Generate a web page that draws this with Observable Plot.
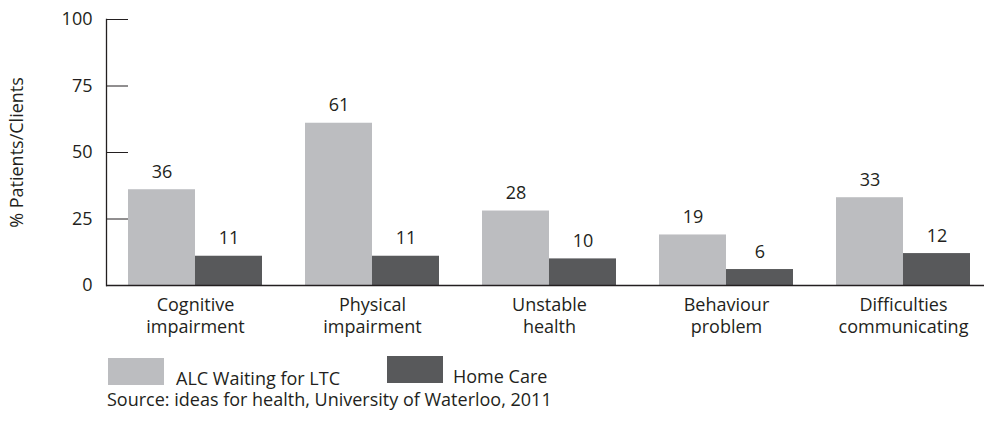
<!DOCTYPE html>
<html>
<head>
<meta charset="utf-8">
<script src="https://cdn.jsdelivr.net/npm/d3@7"></script>
<script src="https://cdn.jsdelivr.net/npm/@observablehq/plot@0.6"></script>
<style>
  html, body { margin: 0; padding: 0; background: #fff; }
  body { width: 984px; height: 423px; overflow: hidden; font-family: "Open Sans", sans-serif; color: #231f20; }
  #legend { position: relative; height: 78px; font-size: 18px; }
  #legend .sw { position: absolute; width: 56px; height: 27px; }
  #legend .lab { position: absolute; line-height: 18px; white-space: nowrap; }
</style>
</head>
<body>
<div id="chart"></div>
<div id="legend"></div>
<script>
// ---- data ----
const categories = ["Cognitive\nimpairment", "Physical\nimpairment", "Unstable\nhealth", "Behaviour\nproblem", "Difficulties\ncommunicating"];
const seriesNames = ["ALC Waiting for LTC", "Home Care"];
const alcValues = [36, 61, 28, 19, 33];
const homeCareValues = [11, 11, 10, 6, 12];
const yTicks = [0, 25, 50, 75, 100];
const yLabel = "% Patients/Clients";
const sourceText = "Source: ideas for health, University of Waterloo, 2011";
const colors = ["#bcbdc0", "#58595b"];

// ---- layout ----
const W = 984, H = 345;
const marginLeft = 106, marginRight = 0, marginTop = 19, marginBottom = H - 285;
const xOpts = {type: "band", domain: categories, range: [marginLeft, W - marginRight], paddingInner: 0.243, paddingOuter: 0.1017, align: 0.611};
const xs = Plot.scale({x: xOpts});
const half = xs.bandwidth / 2;

const rows = [];
categories.forEach((c, i) => {
  rows.push({cat: c, series: seriesNames[0], value: alcValues[i], side: 0});
  rows.push({cat: c, series: seriesNames[1], value: homeCareValues[i], side: 1});
});
const left = rows.filter(d => d.side === 0);
const right = rows.filter(d => d.side === 1);

const ink = "#231f20";
const fs = "18px";
const chart = Plot.plot({
  width: W, height: H,
  marginLeft, marginRight, marginTop, marginBottom,
  style: {fontFamily: "'Open Sans', sans-serif", fontSize: fs, color: ink, background: "#fff"},
  x: {...xOpts, label: null},
  y: {domain: [0, 100], ticks: yTicks, label: null},
  color: {domain: seriesNames, range: colors},
  marks: [
    Plot.barY(left, {x: "cat", y: "value", fill: "series", insetRight: half}),
    Plot.barY(right, {x: "cat", y: "value", fill: "series", insetLeft: half}),
    Plot.text(left, {x: "cat", y: "value", text: d => String(d.value), dx: -half / 2, dy: -12, lineAnchor: "bottom", fill: ink, fontSize: fs}),
    Plot.text(right, {x: "cat", y: "value", text: d => String(d.value), dx: half / 2, dy: -12, lineAnchor: "bottom", fill: ink, fontSize: fs}),
    Plot.axisY(yTicks, {tickSize: 0, tickPadding: 14, label: yLabel, labelAnchor: "center", labelOffset: 96, labelArrow: "none", fontSize: fs, color: ink}),
    Plot.axisY(yTicks, {tickSize: -22, text: null, label: null, stroke: ink, strokeOpacity: 1}),
    Plot.axisX({tickSize: 0, tickPadding: 10, lineHeight: 1.22, label: null, fontSize: fs, color: ink}),
    Plot.frame({anchor: "left", stroke: ink, strokeWidth: 1.3}),
    Plot.ruleY([0], {stroke: ink, strokeWidth: 1.3})
  ]
});
document.getElementById("chart").appendChild(chart);

// ---- legend + source ----
const lg = document.getElementById("legend");
const items = [
  {x: 108, top: 13, tx: 176, ttop: 24},
  {x: 387, top: 11, tx: 453, ttop: 22}
];
seriesNames.forEach((name, i) => {
  const sw = document.createElement("div");
  sw.className = "sw";
  sw.style.left = items[i].x + "px";
  sw.style.top = items[i].top + "px";
  sw.style.background = colors[i];
  lg.appendChild(sw);
  const t = document.createElement("div");
  t.className = "lab";
  t.style.left = items[i].tx + "px";
  t.style.top = items[i].ttop + "px";
  t.textContent = name;
  lg.appendChild(t);
});
const src = document.createElement("div");
src.className = "lab";
src.style.left = "107px";
src.style.top = "45px";
src.textContent = sourceText;
lg.appendChild(src);
</script>
</body>
</html>
